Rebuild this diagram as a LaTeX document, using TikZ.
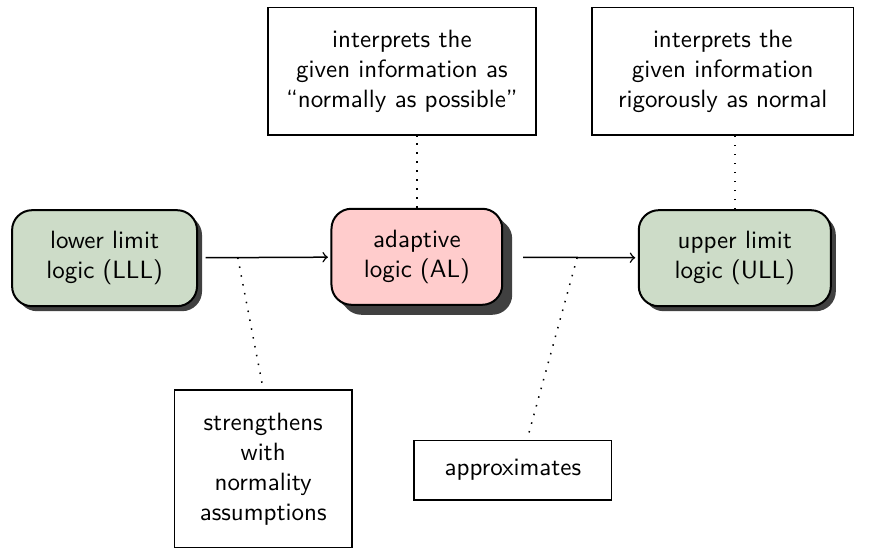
\documentclass[tikz,border=0pt]{standalone}
\usepackage{tikz}
\usetikzlibrary{shadows,calc}
\definecolor{logicgreen}{RGB}{205,220,200}
\definecolor{logicred}{RGB}{255,204,204}

\begin{document}
\begin{tikzpicture}[font=\sffamily,
  logic/.style={draw, thick, rounded corners=8pt, fill=logicgreen, align=center,
    minimum width=2.6cm, minimum height=1.35cm,
    drop shadow={shadow xshift=2pt, shadow yshift=-2pt, fill=black!75, opacity=1}},
  remark/.style={draw, semithick, fill=white, align=center},
  link/.style={line width=0.6pt, dash pattern=on 0.6pt off 3pt}]
 \useasboundingbox (0,0) rectangle (12.287,-7.732);
 \node[logic] (LLL) at (1.47,-3.63) {lower limit\\logic (LLL)};
 \node[logic, fill=logicred, minimum width=2.4cm,
   drop shadow={shadow xshift=4pt, shadow yshift=-4pt, fill=black!75, opacity=1}] (AL) at (5.86,-3.61) {adaptive\\logic (AL)};
 \node[logic, minimum width=2.7cm] (ULL) at (10.33,-3.63) {upper limit\\logic (ULL)};
 \node[remark, minimum width=3.77cm, minimum height=1.79cm] (interAL) at (5.65,-1.0) {interprets the\\given information as\\``normally as possible''};
 \node[remark, minimum width=3.68cm, minimum height=1.79cm] (interULL) at (10.16,-1.0) {interprets the\\given information\\rigorously as normal};
 \node[remark, minimum width=2.5cm, minimum height=2.22cm] (strength) at (3.70,-6.59) {strengthens\\with\\normality\\assumptions};
 \node[remark, minimum width=2.78cm, minimum height=0.84cm] (approx) at (7.21,-6.61) {approximates};
 \draw[->, semithick, shorten <=3pt, shorten >=1pt] (LLL) -- coordinate[pos=0.3] (s1) (AL);
 \draw[->, semithick, shorten <=8pt, shorten >=1pt] (AL) -- coordinate[pos=0.55] (s2) (ULL);
 \draw[link] (AL.north) -- (AL.north |- interAL.south);
 \draw[link] (ULL.north) -- (ULL.north |- interULL.south);
 \draw[link] (s1) -- (strength.north);
 \draw[link] (s2) -- ($(approx.north)+(0.2,0)$);
\end{tikzpicture}
\end{document}
